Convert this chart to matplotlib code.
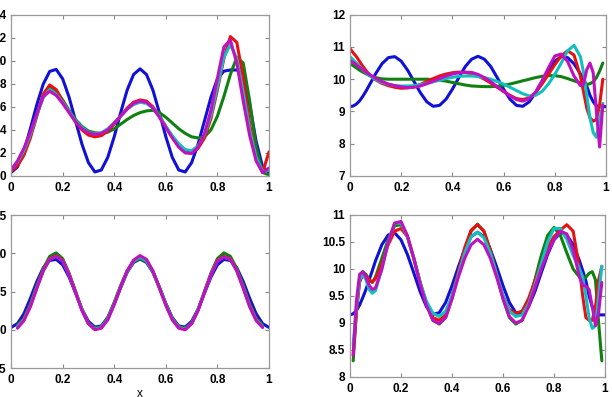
import numpy as np
import matplotlib
matplotlib.use("Agg")
import matplotlib.pyplot as plt

nan = np.nan

# x grids
x_u = np.linspace(0.0, 1.0, 41)
x_f = np.concatenate([np.linspace(0.0, 0.1, 9),
                      np.linspace(0.125, 0.875, 31),
                      np.linspace(0.9, 1.0, 9)])

# top-left panel
tl_blue = [0.3, 0.79, 2.15, 4.1, 6.19, 7.98, 9.08, 9.25, 8.44, 6.84, 4.8, 2.76, 1.16, 0.35,
           0.52, 1.62, 3.41, 5.5, 7.45, 8.81, 9.3, 8.81, 7.45, 5.5, 3.41, 1.62, 0.52, 0.35,
           1.16, 2.76, 4.8, 6.84, 8.44, 9.1, 9.2, 9.2, 8.9, 6.2, 3.0, 0.8, 0.3]
tl_green = [0.5, 1.0, 2.0, 3.5, 5.3, 7.0, 7.75, 7.4, 6.6, 5.7, 4.9, 4.3, 3.9, 3.75, 3.7,
            3.8, 4.1, 4.5, 4.9, 5.25, 5.5, 5.65, 5.7, 5.5, 5.1, 4.6, 4.1, 3.7, 3.4, 3.3,
            3.4, 4.0, 5.2, 6.9, 8.8, 10.3, 9.8, 6.5, 2.5, 0.3, 0.1]
tl_red = [0.4, 0.9, 1.8, 3.3, 5.2, 7.1, 7.9, 7.5, 6.5, 5.6, 4.7, 4.0, 3.55, 3.4, 3.5, 3.9,
          4.5, 5.2, 5.9, 6.4, 6.6, 6.5, 6.0, 5.2, 4.3, 3.4, 2.6, 2.1, 2.0, 2.4, 3.3, 5.0,
          7.5, 10.2, 12.1, 11.6, 8.5, 4.5, 1.5, 0.3, 2.1]
tl_cyan = [0.6, 1.2, 2.2, 3.6, 5.3, 6.8, 7.5, 7.1, 6.4, 5.6, 4.8, 4.2, 3.8, 3.65, 3.75, 4.1,
           4.6, 5.2, 5.8, 6.2, 6.4, 6.3, 5.9, 5.2, 4.3, 3.5, 2.8, 2.3, 2.2, 2.6, 3.6, 5.3,
           7.8, 10.3, 11.4, 10.2, 7.2, 4.0, 1.6, 0.4, 0.5]
tl_mag = [0.5, 1.3, 2.4, 3.8, 5.4, 6.9, 7.35, 7.0, 6.3, 5.5, 4.7, 4.1, 3.75, 3.6, 3.7, 4.0,
          4.6, 5.2, 5.8, 6.3, 6.5, 6.4, 5.9, 5.1, 4.2, 3.3, 2.5, 2.0, 1.95, 2.5, 3.7, 5.7,
          8.5, 11.2, 11.8, 9.8, 6.5, 3.5, 1.3, 0.3, 0.7]

# top-right panel
tr_blue = [9.15, 9.17, 9.23, 9.33, 9.47, 9.63, 9.81, 9.99, 10.17, 10.48, 10.67, 10.70, 10.56,
           10.28, 9.93, 9.58, 9.30, 9.16, 9.19, 9.38, 9.69, 10.05, 10.39, 10.62, 10.71, 10.62,
           10.39, 10.05, 9.69, 9.38, 9.19, 9.16, 9.30, 9.58, 9.93, 10.28, 10.56, 10.70, 10.67,
           10.48, 10.17, 9.99, 9.78, 9.5, 9.3, 9.18, 9.15, 9.15, 9.15]
tr_green = [10.48, 10.42, 10.35, 10.28, 10.22, 10.17, 10.12, 10.08, 10.05, 10.01, 10.0, 10.0,
            10.0, 10.0, 10.0, 10.0, 10.0, 9.99, 9.97, 9.94, 9.9, 9.86, 9.82, 9.79, 9.78, 9.77,
            9.77, 9.78, 9.81, 9.85, 9.9, 9.95, 10.0, 10.05, 10.09, 10.11, 10.11, 10.08, 10.02,
            9.95, 9.88, 9.85, 9.84, 9.86, 9.92, 10.05, 10.25, 10.5, nan]
tr_red = [10.95, 10.82, 10.7, 10.55, 10.4, 10.27, 10.15, 10.06, 9.98, 9.87, 9.8, 9.75, 9.72,
          9.73, 9.77, 9.84, 9.93, 10.02, 10.1, 10.16, 10.2, 10.22, 10.21, 10.17, 10.1, 10.0,
          9.88, 9.75, 9.62, 9.5, 9.4, 9.37, 9.42, 9.58, 9.85, 10.15, 10.45, 10.72, 10.88,
          10.75, 10.1, 9.6, 9.1, 8.8, 8.7, 8.75, 9.2, 10.0, nan]
tr_cyan = [10.7, 10.6, 10.5, 10.4, 10.3, 10.2, 10.12, 10.05, 10.0, 9.9, 9.84, 9.8, 9.79, 9.79,
           9.8, 9.83, 9.87, 9.92, 9.97, 10.02, 10.06, 10.09, 10.1, 10.1, 10.08, 10.05, 10.0,
           9.93, 9.85, 9.75, 9.65, 9.55, 9.48, 9.5, 9.62, 9.85, 10.15, 10.5, 10.88, 11.05,
           10.7, 10.2, 9.5, 8.8, 8.35, 8.2, 8.7, 9.25, nan]
tr_mag = [10.58, 10.52, 10.45, 10.37, 10.3, 10.22, 10.15, 10.09, 10.03, 9.93, 9.85, 9.8, 9.76,
          9.74, 9.75, 9.79, 9.86, 9.94, 10.02, 10.1, 10.16, 10.2, 10.22, 10.21, 10.15, 10.05,
          9.92, 9.77, 9.62, 9.48, 9.37, 9.32, 9.4, 9.6, 9.95, 10.35, 10.72, 10.78, 10.55,
          10.1, 9.8, 9.85, 10.3, 10.5, 10.2, 9.0, 7.9, 9.2, nan]

# bottom-left panel
bl_blue = [0.3, 0.8, 2.1, 4.1, 6.3, 8.1, 9.05, 9.2, 8.5, 6.9, 4.8, 2.7, 1.1, 0.35, 0.5, 1.6,
           3.4, 5.5, 7.5, 8.8, 9.25, 8.8, 7.5, 5.5, 3.4, 1.6, 0.5, 0.35, 1.1, 2.7, 4.8, 6.9,
           8.5, 9.2, 9.05, 8.1, 6.3, 4.1, 2.1, 0.8, 0.3]
bl_green = [nan, 0.6, 1.5, 3.4, 5.8, 8.0, 9.6, 10.05, 9.3, 7.4, 5.0, 2.6, 0.9, 0.2, 0.4, 1.6,
            3.6, 5.8, 7.7, 8.9, 9.3, 8.9, 7.6, 5.6, 3.4, 1.5, 0.4, 0.2, 0.9, 2.6, 5.0, 7.4,
            9.3, 10.05, 9.6, 8.0, 5.8, 3.4, 1.5, 0.6, nan]
bl_red = [nan, 0.4, 1.4, 3.2, 5.6, 7.8, 9.3, 9.7, 9.1, 7.3, 5.0, 2.6, 0.8, 0.1, 0.3, 1.4, 3.4,
          5.6, 7.6, 9.0, 9.5, 9.1, 7.6, 5.5, 3.3, 1.4, 0.3, 0.1, 0.8, 2.6, 5.0, 7.3, 9.1, 9.6,
          9.3, 7.8, 5.6, 3.2, 1.4, 0.4, nan]
bl_cyan = [nan, 0.4, 1.3, 3.1, 5.5, 7.7, 9.2, 9.6, 9.0, 7.2, 4.9, 2.6, 0.8, 0.1, 0.3, 1.4, 3.4,
           5.6, 7.6, 9.0, 9.5, 9.0, 7.6, 5.5, 3.3, 1.4, 0.3, 0.1, 0.8, 2.6, 4.9, 7.2, 9.0, 9.5,
           9.2, 7.7, 5.5, 3.1, 1.3, 0.4, nan]
bl_mag = [nan, 0.2, 1.2, 3.0, 5.4, 7.7, 9.2, 9.6, 9.0, 7.2, 4.9, 2.5, 0.8, 0.0, 0.2, 1.3, 3.3,
          5.6, 7.7, 9.1, 9.7, 9.2, 7.7, 5.5, 3.2, 1.3, 0.2, 0.0, 0.8, 2.5, 4.9, 7.2, 9.0, 9.5,
          9.2, 7.7, 5.4, 3.0, 1.2, 0.3, nan]

# bottom-right panel
br_blue = [9.15, 9.17, 9.23, 9.33, 9.47, 9.62, 9.8, 9.97, 10.15, 10.45, 10.63, 10.67, 10.54,
           10.27, 9.93, 9.58, 9.30, 9.16, 9.19, 9.38, 9.69, 10.04, 10.37, 10.6, 10.68, 10.6,
           10.37, 10.04, 9.69, 9.38, 9.19, 9.16, 9.30, 9.58, 9.93, 10.27, 10.54, 10.67, 10.63,
           10.45, 10.15, 9.97, 9.78, 9.5, 9.3, 9.18, 9.15, 9.15, 9.15]
br_green = [nan, 8.3, 9.2, 9.8, 9.95, 9.9, 9.8, 9.75, 9.85, 10.2, 10.55, 10.8, 10.82, 10.6,
            10.2, 9.75, 9.35, 9.05, 8.98, 9.1, 9.45, 9.9, 10.35, 10.7, 10.83, 10.7, 10.35, 9.9,
            9.45, 9.1, 8.98, 9.05, 9.35, 9.8, 10.25, 10.62, 10.77, 10.62, 10.3, 10.0, 9.85,
            9.82, 9.85, 9.92, 9.95, 9.8, 9.0, 8.3, nan]
br_red = [nan, 8.4, 9.2, 9.75, 9.9, 9.88, 9.8, 9.76, 9.82, 10.1, 10.45, 10.7, 10.75, 10.6,
          10.2, 9.75, 9.35, 9.1, 9.05, 9.15, 9.5, 9.95, 10.4, 10.72, 10.82, 10.7, 10.35, 9.9,
          9.5, 9.25, 9.18, 9.22, 9.45, 9.78, 10.1, 10.4, 10.6, 10.72, 10.82, 10.7, 10.0, 9.5,
          9.1, 9.05, 9.05, 9.3, 9.8, 10.05, nan]
br_cyan = [nan, 8.6, 9.3, 9.8, 9.9, 9.8, 9.62, 9.55, 9.6, 10.0, 10.5, 10.85, 10.85, 10.6,
           10.2, 9.75, 9.4, 9.18, 9.12, 9.22, 9.5, 9.9, 10.3, 10.6, 10.68, 10.58, 10.3, 9.9,
           9.5, 9.22, 9.12, 9.15, 9.35, 9.7, 10.1, 10.5, 10.75, 10.75, 10.55, 10.25, 10.0,
           9.85, 9.5, 9.1, 8.9, 8.95, 9.5, 10.05, nan]
br_mag = [nan, 8.4, 9.4, 9.9, 9.95, 9.85, 9.7, 9.62, 9.65, 10.0, 10.5, 10.85, 10.88, 10.62,
          10.2, 9.72, 9.32, 9.05, 8.99, 9.1, 9.45, 9.85, 10.2, 10.45, 10.55, 10.45, 10.2, 9.85,
          9.45, 9.12, 9.0, 9.05, 9.3, 9.65, 10.0, 10.3, 10.55, 10.7, 10.65, 10.35, 9.85, 9.7,
          9.68, 9.62, 9.3, 8.95, 9.2, 9.75, nan]

colors = ["#1010d8", "#108010", "#e81010", "#10c0c0", "#c010c0"]

plt.rcParams["font.family"] = ["Liberation Sans", "DejaVu Sans"]
plt.rcParams["font.weight"] = "bold"

fig = plt.figure(figsize=(6.12, 3.97), dpi=100)

panels = [
    ([0.018, 0.5567, 0.4216, 0.4063], x_u, [tl_blue, tl_green, tl_red, tl_cyan, tl_mag],
     (0, 14), np.arange(0, 15, 2)),
    ([0.5719, 0.5567, 0.4183, 0.4063], x_f, [tr_blue, tr_green, tr_red, tr_cyan, tr_mag],
     (7, 12), np.arange(7, 13, 1)),
    ([0.018, 0.0730, 0.4216, 0.3854], x_u, [bl_blue, bl_green, bl_red, bl_cyan, bl_mag],
     (-5, 15), np.arange(-5, 16, 5)),
    ([0.5719, 0.0504, 0.4167, 0.4081], x_f, [br_blue, br_green, br_red, br_cyan, br_mag],
     (8, 11), np.arange(8, 11.01, 0.5)),
]

axes = []
for rect, xs, series, ylim, yt in panels:
    ax = fig.add_axes(rect)
    for ys, c in zip(series, colors):
        ax.plot(xs, ys, color=c, lw=2.2, solid_capstyle="round",
                solid_joinstyle="round")
    ax.set_xlim(0, 1)
    ax.set_ylim(*ylim)
    ax.set_xticks(np.arange(0, 1.01, 0.2))
    ax.set_xticklabels(["%g" % v for v in np.arange(0, 1.01, 0.2).round(1)])
    ax.set_yticks(yt)
    ax.set_yticklabels(["%g" % v for v in yt])
    ax.tick_params(direction="in", top=True, right=True, length=3,
                   color="#888888", labelsize=8.5, width=0.8)
    ax.tick_params(axis="x", pad=4.5)
    ax.tick_params(axis="y", pad=3.5)
    for s in ax.spines.values():
        s.set_color("#999999")
        s.set_linewidth(0.9)
    axes.append(ax)

axes[2].set_xlabel("x", fontsize=8.5, labelpad=1)

fig.savefig("out.png", dpi=100)
